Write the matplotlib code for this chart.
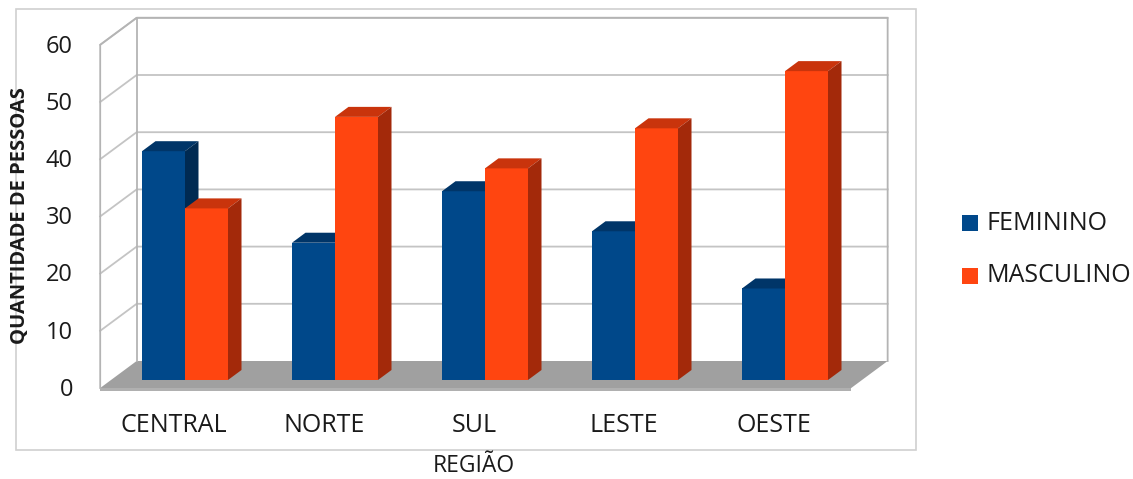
import matplotlib
matplotlib.use("Agg")
import matplotlib.pyplot as plt
from matplotlib.patches import Polygon, Rectangle

regioes = ["CENTRAL", "NORTE", "SUL", "LESTE", "OESTE"]
feminino = [40, 24, 33, 26, 16]
masculino = [30, 46, 37, 44, 54]
series = ["FEMININO", "MASCULINO"]
yticks = [0, 10, 20, 30, 40, 50, 60]

plt.rcParams['font.family'] = ['Open Sans', 'DejaVu Sans']

W, H = 1133, 479
PX_X = 150.0      # pixels per category
PX_Y = 5.72       # pixels per unit of value
X0, Y0 = 185, 380 # pixel position of category 0, value 0 (bar front plane)

# fake depth: one unit of depth shifts 1.35 px right and 1 px up
DX = 1.35 / PX_X
DY = 1.0 / PX_Y
Z_FRONT, Z_BAR, Z_BACK = -8, 10, 19

bar_w = 43 / PX_X
x_left = (111 - X0) / PX_X
x_right = (862 - X0) / PX_X

blue = ("#00488a", "#003568", "#002a52")
orange = ("#ff4510", "#c9340c", "#a3290a")
grid_c = "#c4c4c4"
edge_c = "#b4b4b4"
txt_c = "#1a1a1a"

fig = plt.figure(figsize=(W / 100, H / 100), dpi=100)
ax = fig.add_axes([0, 0, 1, 1])
ax.set_xlim((0 - X0) / PX_X, (W - X0) / PX_X)
ax.set_ylim((Y0 - H) / PX_Y, Y0 / PX_Y)
ax.axis("off")


def p(x, y, z):
    return (x + z * DX, y + z * DY)


# plot area frame
ax.add_patch(Rectangle(((16 - X0) / PX_X, (Y0 - 450) / PX_Y),
                       900 / PX_X, 441 / PX_Y, fill=False,
                       edgecolor="#d0d0d0", lw=1.2, zorder=0))

top = yticks[-1]
# floor slab
ax.add_patch(Polygon([p(x_left, 0, Z_FRONT), p(x_right, 0, Z_FRONT),
                      p(x_right, -0.5, Z_FRONT), p(x_left, -0.5, Z_FRONT)],
                     closed=True, facecolor="#b0b0b0", edgecolor="none", zorder=1))
ax.add_patch(Polygon([p(x_left, 0, Z_FRONT), p(x_right, 0, Z_FRONT),
                      p(x_right, 0, Z_BACK), p(x_left, 0, Z_BACK)],
                     closed=True, facecolor="#a0a0a0", edgecolor="none", zorder=1))

# walls and gridlines
for v in yticks[1:]:
    xs, ys = zip(p(x_left, v, Z_FRONT), p(x_left, v, Z_BACK), p(x_right, v, Z_BACK))
    ax.plot(xs, ys, color=grid_c, lw=1.3, zorder=1)
xs, ys = zip(p(x_left, 0, Z_FRONT), p(x_left, top, Z_FRONT), p(x_left, top, Z_BACK),
             p(x_right, top, Z_BACK), p(x_right, 0, Z_BACK))
ax.plot(xs, ys, color=edge_c, lw=1.3, zorder=1)
xs, ys = zip(p(x_left, 0, Z_BACK), p(x_left, top, Z_BACK))
ax.plot(xs, ys, color=edge_c, lw=1.3, zorder=1)


def draw_bars(offset, values, cols):
    xs = [i + offset for i in range(len(values))]
    bars = ax.bar(xs, values, width=bar_w, align="edge", color=cols[0],
                  edgecolor="none", zorder=2)
    for b, v in zip(bars, values):
        x0, x1 = b.get_x(), b.get_x() + b.get_width()
        ax.add_patch(Polygon([p(x0, v, 0), p(x1, v, 0), p(x1, v, Z_BAR), p(x0, v, Z_BAR)],
                             closed=True, facecolor=cols[1], edgecolor="none", zorder=2))
        ax.add_patch(Polygon([p(x1, 0, 0), p(x1, 0, Z_BAR), p(x1, v, Z_BAR), p(x1, v, 0)],
                             closed=True, facecolor=cols[2], edgecolor="none", zorder=2))


draw_bars(-bar_w, feminino, blue)
draw_bars(0, masculino, orange)

# tick labels on the front edge of the left wall
for v in yticks:
    tx, ty = p((73 - X0) / PX_X, v, Z_FRONT)
    ax.text((73 - X0) / PX_X, ty - 0.3, str(v), ha="right", va="center",
            fontsize=17, color=txt_c)

for i, name in enumerate(regioes):
    lx, _ = p(i, 0, Z_FRONT)
    ax.text(lx, (Y0 - 426) / PX_Y, name, ha="center", va="center",
            fontsize=18, color=txt_c)

ax.text((474 - X0) / PX_X, (Y0 - 466) / PX_Y, "REGIÃO", ha="center", va="center",
        fontsize=16.5, color=txt_c)
ax.text((20 - X0) / PX_X, (Y0 - 216) / PX_Y, "QUANTIDADE DE PESSOAS", ha="center",
        va="center", rotation=90, fontsize=14.5, fontweight="bold", color=txt_c)

# legend
for k, (name, col) in enumerate(zip(series, (blue[0], orange[0]))):
    cy = 223 + k * 53
    ax.add_patch(Rectangle(((962 - X0) / PX_X, (Y0 - cy - 8) / PX_Y),
                           16 / PX_X, 16 / PX_Y, facecolor=col, edgecolor="none"))
    ax.text((987 - X0) / PX_X, (Y0 - cy) / PX_Y, name, ha="left", va="center",
            fontsize=18, color=txt_c)

fig.savefig("out.png", dpi=100, facecolor="white")
